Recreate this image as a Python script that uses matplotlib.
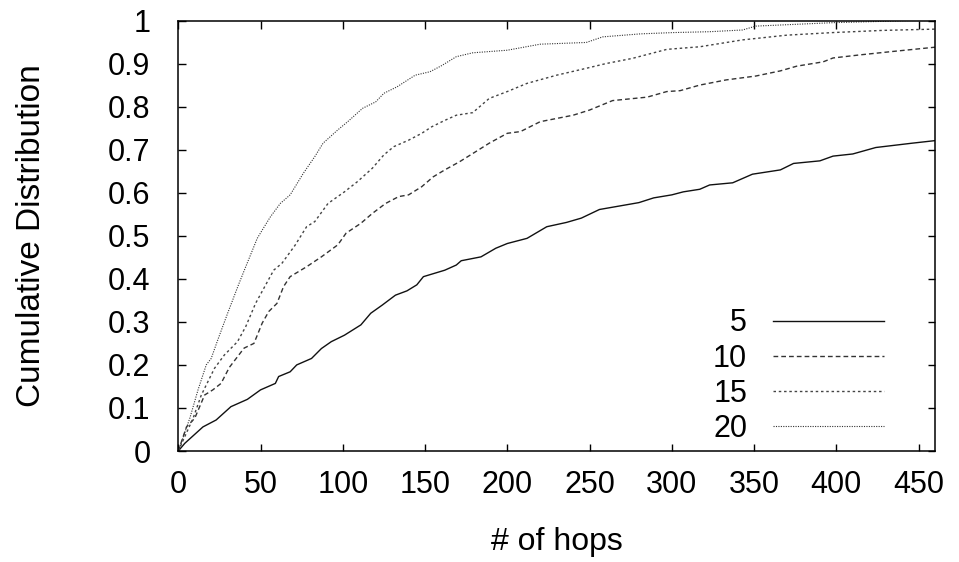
import matplotlib
matplotlib.use("Agg")
import matplotlib.pyplot as plt
import numpy as np

plt.rcParams['font.family'] = ['Liberation Sans', 'DejaVu Sans']

# CDF of hop counts, one curve per setting
hops_5 = [0, 4, 15, 23, 32, 42, 50, 59, 61, 68, 72, 81, 87, 93, 101, 111, 117, 124, 132, 139,
          145, 149, 162, 169, 172, 184, 193, 200, 212, 224, 236, 245, 256, 268, 280, 289, 300, 307, 317, 323,
          337, 349, 366, 374, 390, 398, 410, 424, 446, 460]
cdf_5 = [0, 0.018, 0.056, 0.072, 0.103, 0.120, 0.142, 0.157, 0.173, 0.184, 0.200, 0.215, 0.238, 0.254, 0.269, 0.293, 0.320, 0.339, 0.362, 0.372,
         0.386, 0.405, 0.420, 0.432, 0.442, 0.451, 0.471, 0.482, 0.494, 0.521, 0.531, 0.541, 0.561, 0.569, 0.577, 0.588, 0.595, 0.602, 0.608, 0.618,
         0.623, 0.643, 0.653, 0.668, 0.674, 0.685, 0.690, 0.705, 0.715, 0.721]

hops_10 = [0, 5, 10, 16, 21, 26, 31, 40, 46, 51, 55, 60, 64, 68, 78, 87, 97, 102, 111, 118,
           126, 134, 140, 148, 155, 162, 171, 179, 189, 200, 208, 220, 240, 250, 264, 285, 297, 305, 317, 333,
           351, 366, 376, 392, 398, 414, 434, 460]
cdf_10 = [0, 0.056, 0.076, 0.13, 0.142, 0.157, 0.194, 0.239, 0.25, 0.297, 0.324, 0.343, 0.382, 0.405, 0.428, 0.451, 0.479, 0.506, 0.529, 0.552,
          0.575, 0.591, 0.595, 0.614, 0.637, 0.653, 0.672, 0.691, 0.715, 0.738, 0.742, 0.765, 0.78, 0.792, 0.814, 0.822, 0.835, 0.837, 0.85, 0.862,
          0.871, 0.883, 0.894, 0.904, 0.913, 0.92, 0.928, 0.938]

hops_15 = [0, 9, 14, 22, 28, 36, 41, 47, 52, 58, 63, 71, 78, 83, 91, 101, 109, 118, 125, 131,
           140, 148, 154, 162, 169, 179, 189, 200, 212, 230, 248, 260, 276, 297, 317, 343, 370, 398, 428, 460]
cdf_15 = [0, 0.076, 0.13, 0.192, 0.223, 0.254, 0.289, 0.343, 0.378, 0.42, 0.436, 0.478, 0.521, 0.533, 0.575, 0.602, 0.626, 0.657, 0.688, 0.707,
          0.722, 0.738, 0.753, 0.768, 0.78, 0.786, 0.819, 0.835, 0.854, 0.873, 0.889, 0.9, 0.912, 0.933, 0.939, 0.955, 0.966, 0.972, 0.977, 0.98]

hops_20 = [0, 7, 12, 17, 20, 24, 30, 37, 41, 48, 51, 56, 62, 68, 76, 83, 88, 97, 103, 112,
           120, 125, 133, 144, 153, 160, 169, 179, 200, 220, 248, 258, 281, 301, 323, 343, 351, 398, 428, 445, 460]
cdf_20 = [0, 0.076, 0.142, 0.2, 0.215, 0.258, 0.32, 0.39, 0.428, 0.494, 0.513, 0.544, 0.575, 0.595, 0.645, 0.684, 0.715, 0.746, 0.765, 0.796,
          0.811, 0.831, 0.846, 0.873, 0.881, 0.895, 0.916, 0.925, 0.931, 0.945, 0.949, 0.962, 0.969, 0.972, 0.974, 0.978, 0.987, 0.995, 0.998, 1.0, 1.0]

labels = ["5", "10", "15", "20"]
x_ticks = [0, 50, 100, 150, 200, 250, 300, 350, 400, 450]
y_ticks = [0, 0.1, 0.2, 0.3, 0.4, 0.5, 0.6, 0.7, 0.8, 0.9, 1]

fig = plt.figure(figsize=(9.59, 5.62), dpi=100)
ax = fig.add_axes([0.1859, 0.1975, 0.7891, 0.7660])

ax.plot(hops_5, cdf_5, color='#111111', lw=1.0, label=labels[0])
ax.plot(hops_10, cdf_10, color='#333333', lw=1.0, dashes=(3.4, 2.2), label=labels[1])
ax.plot(hops_15, cdf_15, color='#444444', lw=1.0, dashes=(1.8, 2.0), label=labels[2])
ax.plot(hops_20, cdf_20, color='#333333', lw=0.8, dashes=(1.0, 1.2), label=labels[3])

ax.set_xlim(0, 460)
ax.set_ylim(0, 1)
ax.set_xticks(x_ticks)
ax.set_yticks(y_ticks)
ax.set_yticklabels([f"{v:g}" for v in y_ticks])
ax.tick_params(direction='in', length=5.4, width=1.0, top=True, right=True,
               labelsize=22, colors='black')
ax.tick_params(axis='y', pad=20)
ax.tick_params(axis='x', pad=14)
for s in ax.spines.values():
    s.set_linewidth(1.1)

ax.set_xlabel("# of hops", fontsize=23, labelpad=19)
ax.set_ylabel("Cumulative Distribution", fontsize=24)
ax.yaxis.set_label_coords(-0.174, 0.5)

leg = ax.legend(loc='lower right', bbox_to_anchor=(0.9326, 0.0163), frameon=False,
                markerfirst=False, fontsize=22, handlelength=3.63, handletextpad=0.85,
                labelspacing=0.17, borderpad=0, borderaxespad=0)

fig.savefig("out.png", dpi=100)
